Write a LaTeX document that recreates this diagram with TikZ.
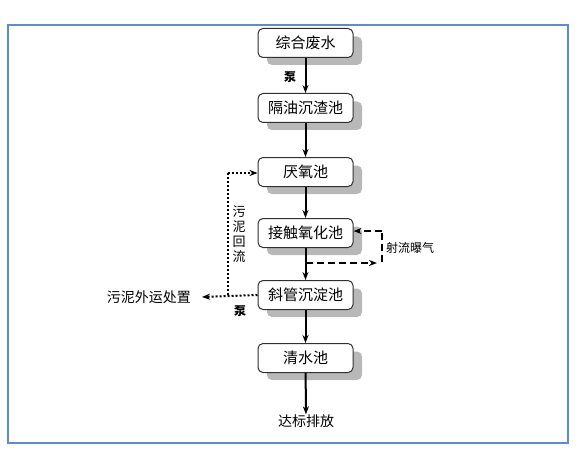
\documentclass[tikz,border=0pt]{standalone}
\usepackage{fontspec}
\newfontfamily\cjk{Noto Sans CJK SC}
\usetikzlibrary{arrows.meta}
\definecolor{framecol}{HTML}{5B8BD0}
\definecolor{boxline}{HTML}{303030}
\definecolor{shadowcol}{HTML}{B8B8B8}
\tikzset{
  procbox/.style={draw=boxline, line width=1pt, rounded corners=5pt, fill=white,
    minimum width=95pt, minimum height=29pt, inner sep=0pt,
    font=\cjk\fontsize{15}{18}\selectfont},
  boxshadow/.style={fill=shadowcol, rounded corners=5pt},
  flow/.style={line width=2pt, -{Stealth[length=8pt,width=6pt]}},
  dotflow/.style={line width=2pt, dotted, -{Stealth[length=8pt,width=6pt]}},
  dotline/.style={line width=2pt, dotted},
  dashflow/.style={line width=1.3pt, dash pattern=on 7pt off 4pt, -{Stealth[length=8pt,width=6pt]}},
  dashline/.style={line width=1.3pt, dash pattern=on 7pt off 4pt},
  plain/.style={font=\cjk\fontsize{14}{16}\selectfont, inner sep=0pt},
  small/.style={font=\cjk\fontsize{12}{14}\selectfont, inner sep=0pt},
  vert/.style={font=\cjk\fontsize{13}{15}\selectfont, inner sep=0pt},
  pump/.style={font=\cjk\bfseries\fontsize{12}{13}\selectfont, inner sep=0pt}
}
\begin{document}
\begin{tikzpicture}[x=1pt,y=-1pt]
\fill[white] (0,0) rectangle (585,457);
\useasboundingbox (0,0) rectangle (585,457);
\draw[framecol, line width=1.2pt] (8,25) rectangle (568,443);

% box shadows
\foreach \yc in {43,108,172,233,295,358}{
  \fill[boxshadow] (267,\yc-6.5) rectangle (362,\yc+22);
}

\node[procbox] (b1) at (305.5,43) {综合废水};
\node[procbox] (b2) at (305.5,108) {隔油沉渣池};
\node[procbox] (b3) at (305.5,172) {厌氧池};
\node[procbox] (b4) at (305.5,233) {接触氧化池};
\node[procbox] (b5) at (305.5,295) {斜管沉淀池};
\node[procbox] (b6) at (305.5,358) {清水池};
\node[plain] (out) at (306,421) {达标排放};

\draw[flow] (b1) -- (b2);
\draw[flow] (b2) -- (b3);
\draw[flow] (b3) -- (b4);
\draw[flow] (b4) -- (b5);
\draw[flow] (b5) -- (b6);
\draw[flow] (b6) -- (out);

\node[pump] (p1) at (290,77) {泵};
\node[pump] (p2) at (240,311) {泵};

% sludge
\node[plain, anchor=east] (sl) at (191,297) {污泥外运处置};
\coordinate (c1) at (228,295);
\coordinate (c2) at (228,173);
\draw[dotflow] (b5.west) -- (sl.east -| 202,0) ;
\draw[dotline] (c1) -- (c2);
\draw[dotflow] (c2) -- (b3.west |- c2);
\node[vert, align=center] (ret) at (239,234) {污\\泥\\回\\流};

% jet aeration
\coordinate (d1) at (306,263);
\coordinate (d2) at (377,263);
\coordinate (d3) at (382,231);
\coordinate (d4) at (382,262);
\draw[dashflow] (d1) -- (d2);
\draw[dashline] (d4) -- (d3);
\draw[dashflow] (d3) -- (b4.east |- d3);
\node[small, anchor=west] (jet) at (386,248) {射流曝气};
\end{tikzpicture}
\end{document}
